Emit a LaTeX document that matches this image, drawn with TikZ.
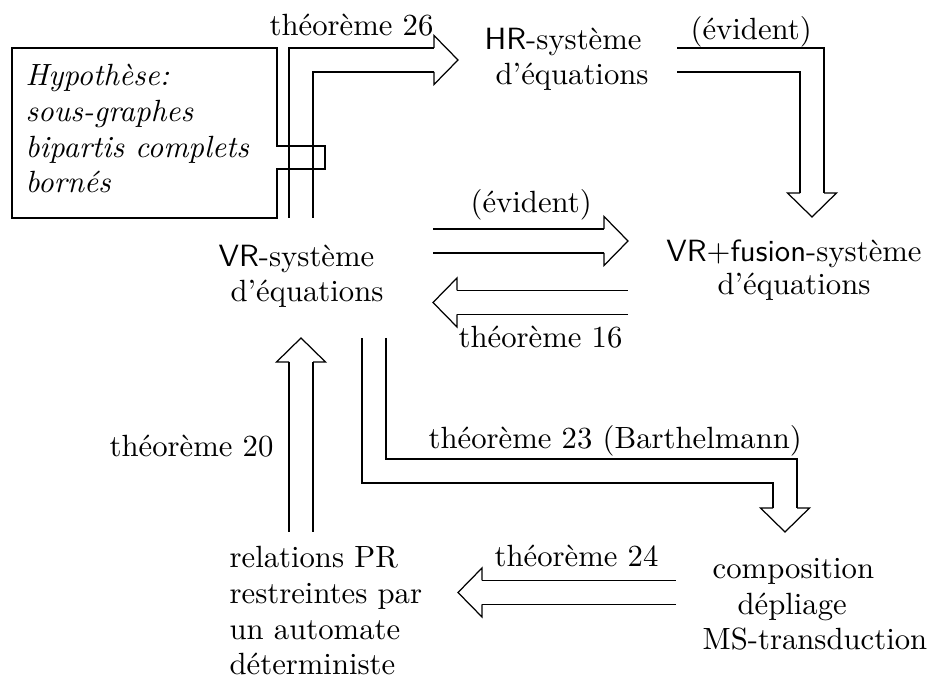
\documentclass[tikz,border=0pt]{standalone}
\usetikzlibrary{calc}
\newcommand\fhR[1]{\draw[fhead] ($(#1)+(-24,-12)$) -- ($(#1)+(-24,-24.5)$) -- (#1) -- ($(#1)+(-24,24.5)$) -- ($(#1)+(-24,12)$);}
\newcommand\fhL[1]{\draw[fhead] ($(#1)+(24,-12)$) -- ($(#1)+(24,-24.5)$) -- (#1) -- ($(#1)+(24,24.5)$) -- ($(#1)+(24,12)$);}
\newcommand\fhU[1]{\draw[fhead] ($(#1)+(-12,24)$) -- ($(#1)+(-24.5,24)$) -- (#1) -- ($(#1)+(24.5,24)$) -- ($(#1)+(12,24)$);}
\newcommand\fhD[1]{\draw[fhead] ($(#1)+(-12,-24)$) -- ($(#1)+(-24.5,-24)$) -- (#1) -- ($(#1)+(24.5,-24)$) -- ($(#1)+(12,-24)$);}
\begin{document}
\begin{tikzpicture}[x=0.32573pt,y=-0.32573pt,
  every node/.style={inner sep=0pt, font=\fontsize{10}{11.7}\selectfont},
  lbl/.style={anchor=base west},
  txt/.style={anchor=base west, align=left},
  fat/.style={line width=0.4pt, double=white, double distance=7.42pt, line join=miter, line cap=butt},
  fhead/.style={line width=0.4pt, line join=miter}]
\useasboundingbox (0,0) rectangle (939,681);

% arrow coordinates
\coordinate (a1s) at (301,218);  \coordinate (a1t) at (458,60);
\coordinate (a2s) at (677,60);   \coordinate (a2t) at (812,217);
\coordinate (a3s) at (433,241);  \coordinate (a3t) at (628,241);
\coordinate (a4s) at (628,302.5);\coordinate (a4t) at (433,302.5);
\coordinate (a5s) at (301,532);  \coordinate (a5t) at (301,338);
\coordinate (a6s) at (374,338);  \coordinate (a6t) at (785,532);
\coordinate (a7s) at (676,592.5);\coordinate (a7t) at (458,592.5);

% shafts
\draw[fat] (a1s) |- ($(a1t)+(-24,0)$);
\draw[fat] (a2s) -| ($(a2t)+(0,-24)$);
\draw[fat] (a3s) -- ($(a3t)+(-24,0)$);
\draw[fat] (a4s) -- ($(a4t)+(24,0)$);
\draw[fat] (a5s) -- ($(a5t)+(0,24)$);
\draw[fat] (a6s) -- ($(a6s|-0,471)$) -- ($(a6t|-0,471)$) -- ($(a6t)+(0,-24)$);
\draw[fat] (a7s) -- ($(a7t)+(24,0)$);

% heads
\fhR{a1t}
\fhD{a2t}
\fhR{a3t}
\fhL{a4t}
\fhU{a5t}
\fhD{a6t}
\fhL{a7t}

% hypothesis box with notch
\draw[line width=0.4pt] (12,48) -- (277,48) -- (277,146) -- (325,146) -- (325,169) -- (277,169) -- (277,218) -- (12,218) -- cycle;
\node[txt, font=\fontsize{10}{11.7}\selectfont\itshape] (hyp) at (25,193) {Hypothèse:\\sous-graphes\\bipartis complets\\bornés};

% main nodes (base anchor = baseline of last line)
\node[txt] (hr) at (484,85) {\textsf{HR}-système\\\hspace*{3.6pt}d’équations};
\node[txt] (vr) at (218,302) {\textsf{VR}-système\\\hspace*{3.9pt}d’équations};
\node[anchor=base, align=center, font=\fontsize{10}{11}\selectfont] (vrf) at (794,295) {\textsf{VR}$+$\textsf{fusion}-système\\d’équations};
\node[txt] (rel) at (229,675) {relations PR\\restreintes par\\un automate\\déterministe};
\node[txt] (comp) at (702,650) {\hspace*{3.3pt}composition\\\hspace*{11.4pt}dépliage\\MS-transduction};

% labels
\node[lbl] (l26) at (269,36) {théorème 26};
\node[lbl] (le1) at (690,40) {(évident)};
\node[lbl] (le2) at (470,213) {(évident)};
\node[lbl] (l16) at (458,348) {théorème 16};
\node[lbl] (l20) at (109,457) {théorème 20};
\node[lbl] (l23) at (428,449) {théorème 23 (Barthelmann)};
\node[lbl] (l24) at (494,567) {théorème 24};
\end{tikzpicture}
\end{document}
